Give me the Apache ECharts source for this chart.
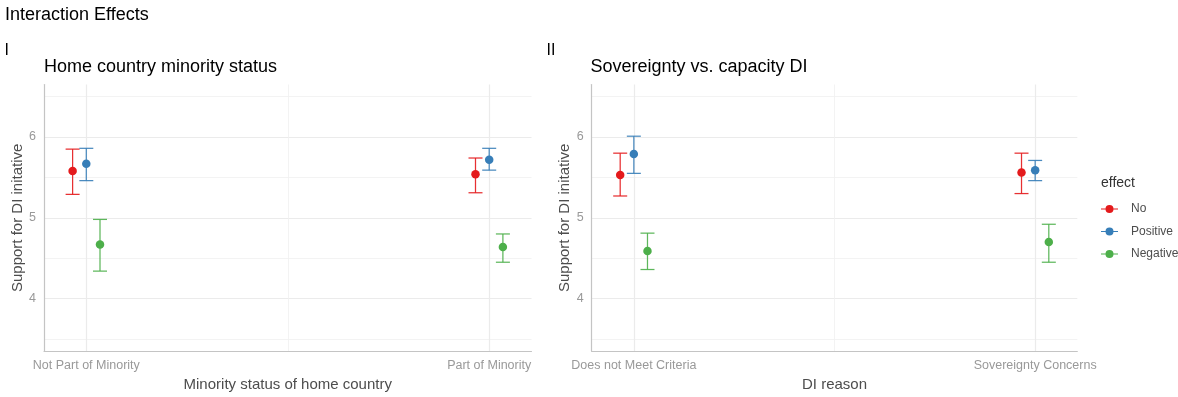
<!DOCTYPE html>
<html>
<head>
<meta charset="utf-8">
<title>Interaction Effects</title>
<script src="https://cdn.jsdelivr.net/npm/echarts@6/dist/echarts.min.js"></script>
<style>
  html, body { margin: 0; padding: 0; background: #ffffff; }
  #chart { width: 1178px; height: 397px; }
</style>
</head>
<body>
<div id="chart"></div>
<script>
// ---- data ----
const effects = ['No', 'Positive', 'Negative'];
const effectColors = ['#E41A1C', '#377EB8', '#4DAF4A'];

// Panel I: minority status of home country (rows: No, Positive, Negative)
const minorityCategories = ['Not Part of Minority', 'Part of Minority'];
const minorityMean  = [[5.58, 5.54], [5.67, 5.72], [4.67, 4.64]];
const minorityLower = [[5.29, 5.31], [5.46, 5.59], [4.34, 4.45]];
const minorityUpper = [[5.85, 5.74], [5.86, 5.86], [4.98, 4.80]];

// Panel II: DI reason (rows: No, Positive, Negative)
const reasonCategories = ['Does not Meet Criteria', 'Sovereignty Concerns'];
const reasonMean  = [[5.53, 5.56], [5.79, 5.59], [4.59, 4.70]];
const reasonLower = [[5.27, 5.30], [5.55, 5.46], [4.36, 4.45]];
const reasonUpper = [[5.80, 5.80], [6.01, 5.71], [4.81, 4.92]];

const yMajorTicks = [4, 5, 6];
const yMinorTicks = [3.5, 4.5, 5.5, 6.5];

// ---- styling / layout ----
const FONT = 'Liberation Sans, Arial, sans-serif';
const dodge = [-0.034, 0, 0.034];
const yMin = 3.35, yMax = 6.65;
const xMin = 0.895, xMax = 2.105;

const panels = [
  { cats: minorityCategories, mean: minorityMean, lower: minorityLower, upper: minorityUpper,
    xName: 'Minority status of home country', grid: { left: 44, top: 84.5, width: 487.5, height: 267.5 } },
  { cats: reasonCategories, mean: reasonMean, lower: reasonLower, upper: reasonUpper,
    xName: 'DI reason', grid: { left: 591.7, top: 84.5, width: 485.6, height: 267.5 } }
];

const gridLineMajor = { color: '#ebebeb', width: 1.2 };
const gridLineMinor = { color: '#f0f0f0', width: 0.8 };
const axisLineStyle = { color: '#c4c4c4', width: 1.2 };

function renderErrorBar(params, api) {
  const x = api.value(0);
  const top = api.coord([x, api.value(2)]);
  const bottom = api.coord([x, api.value(1)]);
  const half = 7;
  const style = { stroke: api.visual('color'), lineWidth: 1.25, opacity: 0.9 };
  return {
    type: 'group',
    children: [
      { type: 'line', shape: { x1: top[0], y1: top[1], x2: bottom[0], y2: bottom[1] }, style: style },
      { type: 'line', shape: { x1: top[0] - half, y1: top[1], x2: top[0] + half, y2: top[1] }, style: style },
      { type: 'line', shape: { x1: bottom[0] - half, y1: bottom[1], x2: bottom[0] + half, y2: bottom[1] }, style: style }
    ]
  };
}

const grids = [], xAxes = [], yAxes = [], series = [];

panels.forEach((p, pi) => {
  grids.push(Object.assign({ containLabel: false }, p.grid));
  const cats = p.cats;
  // major x axis: category positions 1..n
  xAxes.push({
    type: 'value', gridIndex: pi, min: xMin, max: xMax,
    name: p.xName, nameLocation: 'middle', nameGap: 25,
    nameTextStyle: { fontFamily: FONT, fontSize: 15, color: '#4d4d4d' },
    axisLine: { show: true, lineStyle: axisLineStyle },
    axisTick: { show: false, customValues: cats.map((c, i) => i + 1) },
    axisLabel: {
      customValues: cats.map((c, i) => i + 1), margin: 8,
      fontFamily: FONT, fontSize: 12.5, color: '#999999',
      formatter: v => cats[Math.round(v) - 1] || ''
    },
    splitLine: { show: true, lineStyle: gridLineMajor }
  });
  // minor x grid lines between categories
  xAxes.push({
    type: 'value', gridIndex: pi, min: xMin, max: xMax, position: 'bottom',
    axisLine: { show: false }, axisLabel: { show: false },
    axisTick: { show: false, customValues: [1.5] },
    splitLine: { show: true, lineStyle: gridLineMinor }
  });
  yAxes.push({
    type: 'value', gridIndex: pi, min: yMin, max: yMax,
    name: 'Support for DI initative', nameLocation: 'middle', nameGap: 17.5, nameRotate: 90,
    nameTextStyle: { fontFamily: FONT, fontSize: 15, color: '#4d4d4d' },
    axisLine: { show: true, lineStyle: axisLineStyle },
    axisTick: { show: false, customValues: yMajorTicks },
    axisLabel: { customValues: yMajorTicks, margin: 8, fontFamily: FONT, fontSize: 12.5, color: '#999999' },
    splitLine: { show: true, lineStyle: gridLineMajor }
  });
  yAxes.push({
    type: 'value', gridIndex: pi, min: yMin, max: yMax, position: 'left',
    axisLine: { show: false }, axisLabel: { show: false },
    axisTick: { show: false, customValues: yMinorTicks },
    splitLine: { show: true, lineStyle: gridLineMinor }
  });

  effects.forEach((eff, ei) => {
    const color = effectColors[ei];
    series.push({
      type: 'custom', name: eff, xAxisIndex: pi * 2, yAxisIndex: pi * 2,
      itemStyle: { color: color }, z: 2, silent: true,
      encode: { x: 0, y: [1, 2] },
      renderItem: renderErrorBar,
      data: cats.map((c, i) => [i + 1 + dodge[ei], p.lower[ei][i], p.upper[ei][i]])
    });
    series.push({
      type: 'scatter', name: eff, xAxisIndex: pi * 2, yAxisIndex: pi * 2,
      symbol: 'circle', symbolSize: 8.5, z: 3,
      itemStyle: { color: color, opacity: 1 },
      data: cats.map((c, i) => [i + 1 + dodge[ei], p.mean[ei][i]])
    });
  });
});

// legend key: short line with a dot in the middle
const legendIcon = 'path://M0,3.4 H4.6 V4.6 H0 Z M12.4,3.4 H17 V4.6 H12.4 Z M4.5,4 A4,4 0 1,1 12.5,4 A4,4 0 1,1 4.5,4 Z';

const option = {
  animation: false,
  backgroundColor: '#ffffff',
  textStyle: { fontFamily: FONT },
  grid: grids,
  xAxis: xAxes,
  yAxis: yAxes,
  series: series,
  legend: {
    data: effects,
    orient: 'vertical',
    left: 1096, top: 198,
    icon: legendIcon,
    itemWidth: 17, itemHeight: 8, itemGap: 10.5,
    formatter: '{t|{name}}',
    textStyle: {
      rich: { t: { fontFamily: FONT, fontSize: 12, color: '#4d4d4d', padding: [0, 0, 0, 8] } }
    }
  },
  graphic: [
    { type: 'text', x: 5, y: 14.6, style: { text: 'Interaction Effects', font: '18px ' + FONT, fill: '#000', verticalAlign: 'middle' } },
    { type: 'text', x: 4.5, y: 50.5, style: { text: 'I', font: '16px ' + FONT, fill: '#000', verticalAlign: 'middle' } },
    { type: 'text', x: 546.5, y: 50.5, style: { text: 'II', font: '16px ' + FONT, fill: '#000', verticalAlign: 'middle' } },
    { type: 'text', x: 44, y: 67.5, style: { text: 'Home country minority status', font: '18px ' + FONT, fill: '#000', verticalAlign: 'middle' } },
    { type: 'text', x: 590.5, y: 67.5, style: { text: 'Sovereignty vs. capacity DI', font: '18px ' + FONT, fill: '#000', verticalAlign: 'middle' } },
    { type: 'text', x: 1101, y: 183, style: { text: 'effect', font: '14px ' + FONT, fill: '#333', verticalAlign: 'middle' } }
  ]
};

const chart = echarts.init(document.getElementById('chart'), null, { renderer: 'canvas' });
chart.setOption(option);
</script>
</body>
</html>
